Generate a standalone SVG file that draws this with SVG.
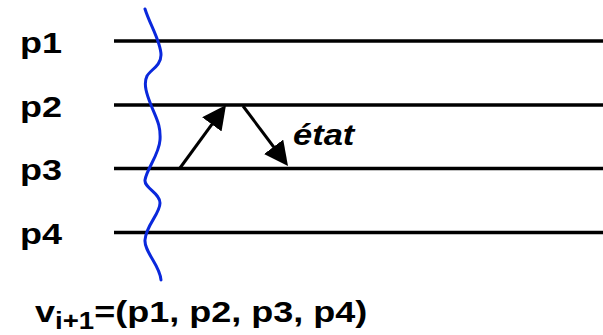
<svg xmlns="http://www.w3.org/2000/svg" width="603" height="335" viewBox="0 0 603 335">
<style>
.lbl{font-family:"Liberation Sans",Arial,sans-serif;font-weight:bold;font-size:30px;fill:#000}
.sub{font-size:23px}
.it{font-style:italic}
.proc{stroke:#000;stroke-width:3.5;fill:none}
.msg{stroke:#000;stroke-width:3;fill:none;marker-end:url(#ah)}
.cut{stroke:#0a28dc;stroke-width:3;fill:none;stroke-linecap:round}
</style>
<defs>
<marker id="ah" viewBox="0 0 24 24" refX="14" refY="12" markerWidth="24" markerHeight="24" markerUnits="userSpaceOnUse" orient="auto">
<path d="M0,0 L24,12 L0,24 z" fill="#000"/>
</marker>
</defs>
<g id="p1"><line class="proc" x1="114" y1="41" x2="603" y2="41"/><text class="lbl" transform="translate(20,53) scale(1.2,1)">p1</text></g>
<g id="p2"><line class="proc" x1="114" y1="105" x2="603" y2="105"/><text class="lbl" transform="translate(20,117) scale(1.2,1)">p2</text></g>
<g id="p3"><line class="proc" x1="114" y1="168.5" x2="603" y2="168.5"/><text class="lbl" transform="translate(20,180) scale(1.2,1)">p3</text></g>
<g id="p4"><line class="proc" x1="114" y1="232.5" x2="603" y2="232.5"/><text class="lbl" transform="translate(20,244) scale(1.2,1)">p4</text></g>
<g id="cut"><path class="cut" d="M145,9 C150,25 161,42 161,55 C161,66 150,70 147,76 C143,84 147,95 151,105 C156,118 161,125 160,140 C159,155 147,168 145,180 C144,188 160,193 160,203 C160,214 146,225 145,240 C144,252 160,265 161,280"/></g>
<g id="connectors">
<line class="msg" x1="180" y1="168" x2="220.1" y2="113.1"/>
<line class="msg" x1="243" y1="106" x2="282" y2="158"/>
</g>
<g id="etat"><text class="lbl it" transform="translate(293,145) scale(1.15,1)">état</text></g>
<g id="formula"><text class="lbl" transform="translate(35,322) scale(1.2,1)">v<tspan class="sub" dy="7">i+1</tspan><tspan dy="-7">=(p1, p2, p3, p4)</tspan></text></g>
</svg>
